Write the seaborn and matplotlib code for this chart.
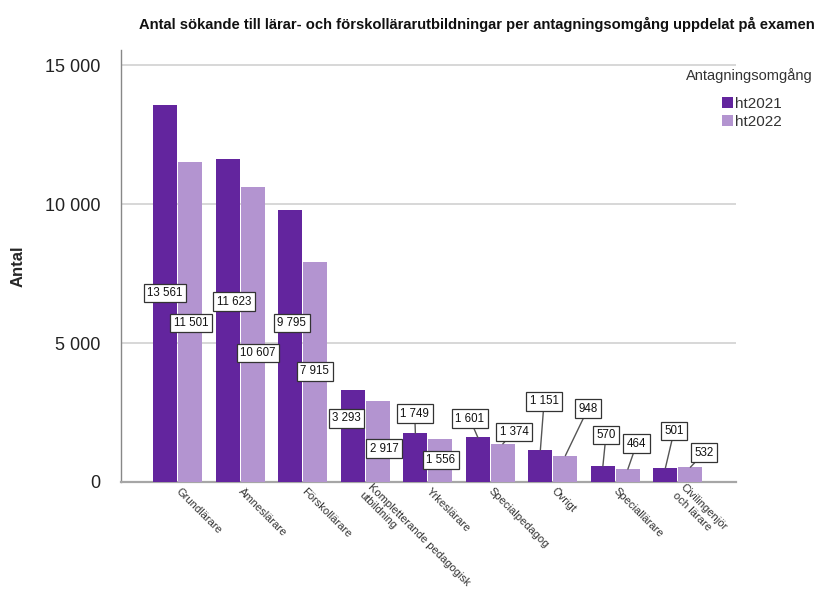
import pandas as pd
import matplotlib
matplotlib.use("Agg")
import matplotlib.pyplot as plt
import seaborn as sns

# values
categories = [
    "Grundlärare",
    "Ämneslärare",
    "Förskollärare",
    "Kompletterande pedagogisk\nutbildning",
    "Yrkeslärare",
    "Specialpedagog",
    "Övrigt",
    "Speciallärare",
    "Civilingenjör\noch lärare",
]
rounds = ["ht2021", "ht2022"]
ht2021 = [13561, 11623, 9795, 3293, 1749, 1601, 1151, 570, 501]
ht2022 = [11501, 10607, 7915, 2917, 1556, 1374, 948, 464, 532]

# where the boxed value labels sit (x in category units, y in data units)
label_pos_2021 = [(-0.21, 6800), (0.90, 6480), (1.82, 5720), (2.70, 2300), (3.79, 2450),
                  (4.67, 2270), (5.86, 2910), (6.85, 1690), (7.94, 1835)]
label_pos_2022 = [(0.21, 5720), (1.28, 4640), (2.19, 3990), (3.30, 1190), (4.21, 790),
                  (5.38, 1800), (6.56, 2630), (7.34, 1370), (8.42, 1045)]

colors = ["#63259e", "#b394d0"]

df = pd.DataFrame({
    "Examen": categories * 2,
    "Omgång": [rounds[0]] * len(categories) + [rounds[1]] * len(categories),
    "Antal": ht2021 + ht2022,
})

sns.set_style("white")
plt.rcParams["font.family"] = ["Liberation Sans", "DejaVu Sans"]

fig = plt.figure(figsize=(8.2, 5.92), dpi=100)
ax = fig.add_axes([121 / 820, 1 - 482 / 592, (736 - 121) / 820, (482 - 50) / 592])

sns.barplot(data=df, x="Examen", y="Antal", hue="Omgång", palette=colors,
            saturation=1, width=0.8, gap=0.05, linewidth=0, ax=ax, zorder=3)

ax.set_xlim(-0.91, 8.93)
ax.set_ylim(0, 15540)
ax.set_yticks([0, 5000, 10000, 15000])
ax.set_yticklabels([f"{v:,}".replace(",", " ") for v in [0, 5000, 10000, 15000]],
                   fontsize=13, color="#222222")
ax.yaxis.grid(True, color="#d4d4d4", linewidth=1.3, zorder=0)
ax.set_axisbelow(True)
ax.tick_params(axis="y", length=12, width=1.5, color="#666666", pad=3)
ax.tick_params(axis="x", length=5, width=1, color="#333333", pad=0.5)

ax.set_xticks(range(len(categories)))
ax.set_xticklabels(categories, rotation=-45, ha="left", va="center",
                   rotation_mode="anchor", fontsize=8.0, color="#333333")

ax.set_xlabel("")
ax.set_ylabel("Antal", fontsize=12, fontweight="bold", labelpad=14)

for side in ["top", "right"]:
    ax.spines[side].set_visible(False)
ax.spines["left"].set_color("#888888")
ax.spines["left"].set_linewidth(1)
ax.spines["bottom"].set_color("#a6a6a6")
ax.spines["bottom"].set_linewidth(1.6)

# boxed value labels with leader lines
for container, vals, pos in zip(ax.containers, [ht2021, ht2022], [label_pos_2021, label_pos_2022]):
    for bar, v, (lx, ly) in zip(container, vals, pos):
        bx = bar.get_x() + bar.get_width() / 2
        arrow = dict(arrowstyle="-", color="#555555", lw=1, shrinkA=0, shrinkB=0) if ly > v else None
        ax.annotate(f"{v:,}".replace(",", " "), xy=(bx, v), xytext=(lx, ly),
                    ha="center", va="center", fontsize=8.3, color="#111111",
                    bbox=dict(boxstyle="square,pad=0.3", fc="white", ec="#333333", lw=0.9),
                    arrowprops=arrow, zorder=5)

leg = ax.legend(loc="upper center",
                bbox_to_anchor=(752 / 820, 1 - 89 / 592), bbox_transform=fig.transFigure,
                frameon=False, fontsize=11,
                handlelength=0.75, handleheight=0.75, handletextpad=0.15,
                labelspacing=0.3, borderpad=0)
for t in leg.get_texts():
    t.set_color("#333333")
fig.text(749 / 820, 1 - 76 / 592, "Antagningsomgång", ha="center", va="center",
         fontsize=10.5, color="#333333")

fig.text(815 / 820, 1 - 24 / 592,
         "Antal sökande till lärar- och förskollärarutbildningar per antagningsomgång uppdelat på examen",
         ha="right", va="center", fontsize=10.6, fontweight="bold", color="#111111")

fig.savefig("out.png", dpi=100)
